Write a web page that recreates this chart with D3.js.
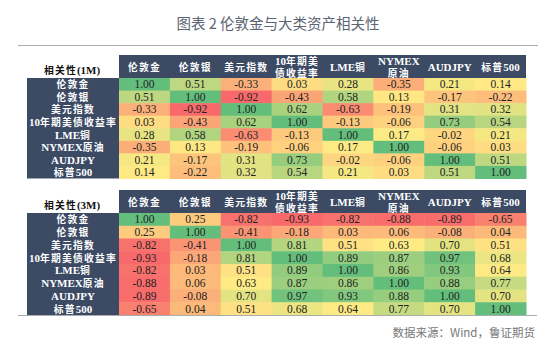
<!DOCTYPE html>
<html>
<head>
<meta charset="utf-8">
<script src="https://cdn.jsdelivr.net/npm/d3@7"></script>
<style>
  body { margin: 0; background: #fff; }
  svg { display: block; }
</style>
</head>
<body>
<div id="chart"></div>
<script>
// labels for rows and columns (same order)
const assets = ["伦敦金", "伦敦银", "美元指数", "10年期美债收益率", "LME铜", "NYMEX原油", "AUDJPY", "标普500"];
// header labels, split into lines
const headers = [["伦敦金"], ["伦敦银"], ["美元指数"], ["10年期美", "债收益率"], ["LME铜"], ["NYMEX", "原油"], ["AUDJPY"], ["标普500"]];

// 1-month correlations
const corr1M = [
  [1.00, 0.51, -0.33, 0.03, 0.28, -0.35, 0.21, 0.14],
  [0.51, 1.00, -0.92, -0.43, 0.58, 0.13, -0.17, -0.22],
  [-0.33, -0.92, 1.00, 0.62, -0.63, -0.19, 0.31, 0.32],
  [0.03, -0.43, 0.62, 1.00, -0.13, -0.06, 0.73, 0.54],
  [0.28, 0.58, -0.63, -0.13, 1.00, 0.17, -0.02, 0.21],
  [-0.35, 0.13, -0.19, -0.06, 0.17, 1.00, -0.06, 0.03],
  [0.21, -0.17, 0.31, 0.73, -0.02, -0.06, 1.00, 0.51],
  [0.14, -0.22, 0.32, 0.54, 0.21, 0.03, 0.51, 1.00]
];

// 3-month correlations
const corr3M = [
  [1.00, 0.25, -0.82, -0.93, -0.82, -0.88, -0.89, -0.65],
  [0.25, 1.00, -0.41, -0.18, 0.03, 0.06, -0.08, 0.04],
  [-0.82, -0.41, 1.00, 0.81, 0.51, 0.63, 0.70, 0.51],
  [-0.93, -0.18, 0.81, 1.00, 0.89, 0.87, 0.97, 0.68],
  [-0.82, 0.03, 0.51, 0.89, 1.00, 0.86, 0.93, 0.64],
  [-0.88, 0.06, 0.63, 0.87, 0.86, 1.00, 0.88, 0.77],
  [-0.89, -0.08, 0.70, 0.97, 0.93, 0.88, 1.00, 0.70],
  [-0.65, 0.04, 0.51, 0.68, 0.64, 0.77, 0.70, 1.00]
];

const width = 554, height = 351;
const navy = "#3c4a64";

const svg = d3.select("#chart")
  .append("svg")
  .attr("width", width)
  .attr("height", height)
  .attr("viewBox", [0, 0, width, height]);

// mixed chinese / latin text as runs: CJK a bit smaller & spaced out
function addRuns(sel, str) {
  const runs = str.match(/[\u3400-\u9fff]+|[^\u3400-\u9fff]+/g);
  runs.forEach(r => {
    const cjk = /[\u3400-\u9fff]/.test(r);
    sel.append("tspan")
      .attr("font-family", "'Liberation Serif', 'Noto Sans CJK SC', serif")
      .attr("font-size", cjk ? 9.8 : 11)
      .attr("letter-spacing", cjk ? 1.2 : 0)
      .text(r);
  });
}

// title + rule
svg.append("text")
  .attr("x", 278)
  .attr("y", 29)
  .attr("text-anchor", "middle")
  .attr("font-family", "'Noto Sans CJK SC', sans-serif")
  .attr("font-size", 14.5)
  .attr("fill", "#5b6473")
  .text("图表 2 伦敦金与大类资产相关性");

svg.append("line")
  .attr("x1", 18).attr("x2", 538)
  .attr("y1", 45.5).attr("y2", 45.5)
  .attr("stroke", "#a9acb1")
  .attr("stroke-width", 1);

const x = d3.scaleBand()
  .domain(d3.range(assets.length))
  .range([119, 526]);

function drawTable(data, title, top, bottom) {
  const g = svg.append("g");
  const headH = 23;
  const y = d3.scaleBand()
    .domain(d3.range(assets.length))
    .range([top + headH, bottom]);

  // Excel style red-yellow-green scale, midpoint = median
  const vals = data.flat().sort(d3.ascending);
  const color = d3.scaleLinear()
    .domain([d3.min(vals), d3.quantile(vals, 0.5), d3.max(vals)])
    .range(["#f8696b", "#ffeb84", "#63be7b"]);

  // header band
  g.append("rect")
    .attr("x", x.range()[0]).attr("y", top)
    .attr("width", x.range()[1] - x.range()[0]).attr("height", headH)
    .attr("fill", navy);

  // row label column
  g.append("rect")
    .attr("x", 27).attr("y", top + headH)
    .attr("width", x.range()[0] - 27).attr("height", bottom - top - headH)
    .attr("fill", navy);

  const tt = g.append("text")
    .attr("x", 72).attr("y", top + headH - 4)
    .attr("text-anchor", "middle")
    .attr("font-weight", "bold")
    .attr("fill", "#111");
  addRuns(tt, title);

  // column headers (one text each, lines as tspans)
  headers.forEach((lines, i) => {
    const t = g.append("text")
      .attr("text-anchor", "middle")
      .attr("font-weight", "bold")
      .attr("fill", "#fff");
    lines.forEach((s, k) => {
      const line = t.append("tspan")
        .attr("x", x(i) + x.bandwidth() / 2)
        .attr("y", top + headH / 2 + 4 + (k - (lines.length - 1) / 2) * 12);
      addRuns(line, s);
    });
  });

  // row labels
  assets.forEach((s, i) => {
    const t = g.append("text")
      .attr("x", 73)
      .attr("y", y(i) + y.bandwidth() / 2 + 4)
      .attr("text-anchor", "middle")
      .attr("font-weight", "bold")
      .attr("fill", "#fff");
    addRuns(t, s);
  });

  const cells = data.flatMap((row, r) => row.map((v, c) => ({ r, c, v })));

  g.selectAll(".cell")
    .data(cells)
    .join("rect")
    .attr("x", d => x(d.c))
    .attr("y", d => y(d.r))
    .attr("width", x.bandwidth() + 0.5)
    .attr("height", y.bandwidth() + 0.5)
    .attr("fill", d => color(d.v));

  g.selectAll(".val")
    .data(cells)
    .join("text")
    .attr("x", d => x(d.c) + x.bandwidth() / 2)
    .attr("y", d => y(d.r) + y.bandwidth() / 2 + 4)
    .attr("text-anchor", "middle")
    .attr("font-family", "'Liberation Serif', serif")
    .attr("font-size", 11.5)
    .attr("fill", "#222")
    .text(d => d.v.toFixed(2));
}

drawTable(corr1M, "相关性(1M)", 55, 178.5);
drawTable(corr3M, "相关性(3M)", 190, 315);

// bottom rule
svg.append("line")
  .attr("x1", 18).attr("x2", 537)
  .attr("y1", 315.5).attr("y2", 315.5)
  .attr("stroke", "#a9acb1")
  .attr("stroke-width", 1);

// source
svg.append("text")
  .attr("x", 535).attr("y", 337)
  .attr("text-anchor", "end")
  .attr("font-family", "'Noto Sans CJK SC', sans-serif")
  .attr("font-size", 11.5)
  .attr("fill", "#777")
  .text("数据来源：Wind，鲁证期货");
</script>
</body>
</html>
